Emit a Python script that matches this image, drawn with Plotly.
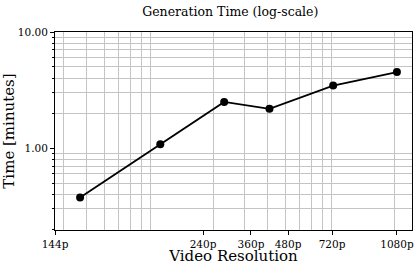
import plotly.graph_objects as go

# Data
resolutions = ["144p", "240p", "360p", "480p", "720p", "1080p"]
pixel_counts = [36864, 102240, 230400, 409920, 921600, 2073600]
gen_time_minutes = [0.375, 1.08, 2.50, 2.18, 3.46, 4.52]

# Tick values/labels
x_tick_vals = [26800, 176000, 324000, 519000, 908000, 2073600]
x_tick_text = ["144p", "240p", "360p", "480p", "720p", "1080p"]
y_tick_vals = [1, 10]
y_tick_text = ["1.00", "10.00"]

x_minor = [k * 10 ** e for e in (4, 5, 6) for k in range(2, 10)]
x_minor = [v for v in x_minor if 26800 <= v <= 2.5e6]
y_minor = [k * 10 ** e for e in (-1, 0) for k in range(2, 10)]

FONT = "DejaVu Serif"
GRID = "#c4c4c4"

fig = go.Figure()
fig.add_trace(go.Scatter(
    x=pixel_counts, y=gen_time_minutes, mode="lines+markers",
    line=dict(color="black", width=1.8),
    marker=dict(color="black", size=8),
    showlegend=False,
))

fig.update_layout(
    width=415, height=265,
    margin=dict(l=55, r=3, t=32, b=35),
    paper_bgcolor="white", plot_bgcolor="white",
    font=dict(family=FONT, color="black", size=10.5),
    title=dict(text="Generation Time (log-scale)", font=dict(size=12.5, family=FONT),
               x=0.555, xanchor="center", y=0.958, yanchor="middle", yref="container"),
)

fig.update_xaxes(
    type="log", range=[4.428, 6.40], automargin=False,
    tickmode="array", tickvals=x_tick_vals, ticktext=x_tick_text,
    ticks="outside", ticklen=4, tickcolor="black", tickwidth=1,
    showgrid=False, zeroline=False,
    showline=True, linecolor="black", linewidth=1, mirror=True,
    tickfont=dict(size=10.5, family=FONT),
    title=dict(text="Video Resolution", font=dict(size=15, family=FONT), standoff=5),
    minor=dict(tickmode="array", tickvals=x_minor, showgrid=True, gridcolor=GRID,
               gridwidth=1, ticks=""),
)

fig.update_yaxes(
    type="log", range=[-0.705, 1.0], automargin=False,
    tickmode="array", tickvals=y_tick_vals, ticktext=y_tick_text,
    ticks="outside", ticklen=4, tickcolor="black", tickwidth=1,
    showgrid=False, zeroline=False,
    showline=True, linecolor="black", linewidth=1, mirror=True,
    tickfont=dict(size=10.5, family=FONT),
    title=dict(text="Time [minutes]", font=dict(size=15, family=FONT), standoff=4),
    minor=dict(tickmode="array", tickvals=y_minor, showgrid=True, gridcolor=GRID,
               gridwidth=1, ticks="outside", ticklen=2, tickcolor="black"),
)

fig.write_html("out.html", config={"displayModeBar": False},
               post_script="document.body.style.margin='0';")
